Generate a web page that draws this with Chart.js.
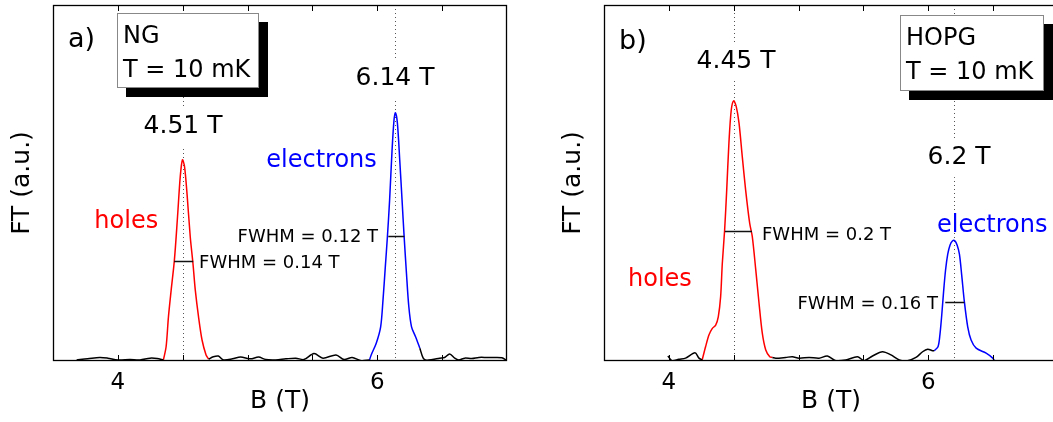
<!DOCTYPE html>
<html><head><meta charset="utf-8">
<script src="https://cdn.jsdelivr.net/npm/chart.js@4.4.1/dist/chart.umd.min.js"></script>
<style>
html,body{margin:0;padding:0;background:#fff;overflow:hidden;width:1053px;height:422px;}
canvas{position:absolute;top:0;}
#cA{left:0;} #cB{left:551px;}
</style></head><body>
<canvas id="cA" width="520" height="422"></canvas>
<canvas id="cB" width="520" height="422"></canvas>
<script>
// ---- axis ticks ----
const xTickValues = [3.5, 4, 4.5, 5, 5.5, 6, 6.5, 7];
const xTickLabels = ['', '4', '', '', '', '6', '', ''];

// ---- panel a) NG ----
const ngNoise1B = [3.682, 3.767, 3.860, 3.922, 4.000, 4.093, 4.171, 4.248, 4.302, 4.351];
const ngNoise1F = [0.003, 0.006, 0.010, 0.008, 0.003, 0.004, 0.003, 0.008, 0.007, 0.003];
const ngHolesB = [4.351, 4.372, 4.390, 4.411, 4.436, 4.460, 4.481, 4.498, 4.514, 4.533, 4.558, 4.579, 4.597, 4.622, 4.649, 4.680, 4.700];
const ngHolesF = [0.003, 0.040, 0.124, 0.199, 0.284, 0.405, 0.518, 0.565, 0.546, 0.471, 0.349, 0.274, 0.199, 0.124, 0.059, 0.017, 0.005];
const ngNoise2B = [4.700, 4.736, 4.775, 4.814, 4.884, 4.946, 5.023, 5.085, 5.140, 5.217, 5.295, 5.372, 5.434, 5.512, 5.581, 5.682, 5.744, 5.806, 5.876, 5.940];
const ngNoise2F = [0.005, 0.012, 0.014, 0.003, 0.006, 0.011, 0.006, 0.011, 0.004, 0.003, 0.006, 0.008, 0.004, 0.021, 0.008, 0.017, 0.004, 0.010, 0.001, 0.003];
const ngElecB = [5.940, 5.953, 5.992, 6.026, 6.044, 6.062, 6.078, 6.095, 6.114, 6.129, 6.140, 6.155, 6.173, 6.191, 6.207, 6.225, 6.243, 6.264, 6.295, 6.328];
const ngElecF = [0.003, 0.017, 0.050, 0.096, 0.171, 0.265, 0.349, 0.452, 0.593, 0.677, 0.697, 0.668, 0.565, 0.452, 0.349, 0.246, 0.153, 0.096, 0.068, 0.036];
const ngNoise3B = [6.328, 6.354, 6.380, 6.426, 6.481, 6.519, 6.558, 6.597, 6.628, 6.674, 6.729, 6.783, 6.845, 6.907, 6.961, 6.995];
const ngNoise3F = [0.036, 0.008, 0.002, 0.004, 0.008, 0.010, 0.020, 0.008, 0.003, 0.008, 0.007, 0.010, 0.010, 0.010, 0.009, 0.002];
const ngPeaks = [4.504, 6.14];
const ngFwhm = [[4.434, 4.581, 0.281], [6.085, 6.209, 0.351]];

// ---- panel b) HOPG ----
const hoNoise1B = [3.992, 4.025, 4.077, 4.129, 4.201, 4.232, 4.257];
const hoNoise1F = [0.014, 0.001, 0.005, 0.008, 0.023, 0.008, 0.003];
const hoHolesB = [4.257, 4.283, 4.309, 4.334, 4.361, 4.381, 4.399, 4.412, 4.430, 4.446, 4.463, 4.481, 4.500, 4.520, 4.541, 4.566, 4.592, 4.623, 4.643, 4.670, 4.695, 4.720, 4.747, 4.778, 4.798];
const hoHolesF = [0.003, 0.040, 0.073, 0.091, 0.101, 0.124, 0.180, 0.274, 0.368, 0.480, 0.612, 0.705, 0.731, 0.714, 0.668, 0.574, 0.480, 0.387, 0.350, 0.256, 0.163, 0.079, 0.031, 0.012, 0.010];
const hoNoise2B = [4.798, 4.824, 4.901, 4.952, 5.004, 5.081, 5.158, 5.222, 5.287, 5.364, 5.454, 5.506, 5.570, 5.647, 5.712, 5.776, 5.840, 5.905, 5.956, 5.995, 6.033, 6.046];
const hoNoise2F = [0.010, 0.008, 0.010, 0.012, 0.008, 0.010, 0.008, 0.014, 0.001, 0.003, 0.012, 0.001, 0.014, 0.026, 0.017, 0.003, 0.001, 0.010, 0.026, 0.033, 0.029, 0.029];
const hoElecB = [6.046, 6.075, 6.090, 6.104, 6.118, 6.133, 6.150, 6.168, 6.186, 6.203, 6.222, 6.240, 6.258, 6.278, 6.304, 6.330, 6.369, 6.446, 6.497, 6.510];
const hoElecF = [0.029, 0.040, 0.075, 0.130, 0.195, 0.255, 0.300, 0.326, 0.337, 0.338, 0.326, 0.300, 0.240, 0.167, 0.096, 0.059, 0.036, 0.022, 0.008, 0.001];
const hoPeaks = [4.502, 6.198];
const hoFwhm = [[4.432, 4.641, 0.365], [6.131, 6.278, 0.166]];

const FONT = '"DejaVu Sans", sans-serif';
Chart.defaults.font.family = FONT;
Chart.defaults.color = '#000';

function pts(bs, fs) { return bs.map((b, i) => ({x: b, y: fs[i]})); }
function line(bs, fs, color) {
  return {data: pts(bs, fs), showLine: true, borderColor: color, borderWidth: 1.5, pointRadius: 0, tension: 0.3, fill: false};
}

const panelPlugin = {
  id: 'panel',
  beforeDatasetsDraw(chart, args, o) {
    const {ctx, chartArea: ca, scales: {x}} = chart;
    ctx.save();
    ctx.strokeStyle = '#555'; ctx.lineWidth = 1; ctx.setLineDash([1, 3]);
    o.peaks.forEach(b => {
      const px = Math.round(x.getPixelForValue(b)) + 0.5;
      ctx.beginPath(); ctx.moveTo(px, ca.top); ctx.lineTo(px, ca.bottom); ctx.stroke();
    });
    ctx.restore();
  },
  afterDatasetsDraw(chart, args, o) {
    const {ctx, chartArea: ca, scales: {x, y}} = chart;
    ctx.save();
    // FWHM bars
    ctx.strokeStyle = '#111'; ctx.lineWidth = 1.5;
    o.fwhm.forEach(([b0, b1, f]) => {
      const py = Math.round(y.getPixelForValue(f)) + 0.5;
      ctx.beginPath(); ctx.moveTo(x.getPixelForValue(b0), py); ctx.lineTo(x.getPixelForValue(b1), py); ctx.stroke();
    });
    // frame
    ctx.strokeStyle = '#000'; ctx.lineWidth = 1.3;
    ctx.strokeRect(ca.left + 0.5, ca.top + 0.5, ca.right - ca.left - 1, ca.bottom - ca.top - 1);
    // inward ticks top & bottom
    ctx.lineWidth = 1;
    x.ticks.forEach(t => {
      if (t.value <= x.min || t.value >= x.max) return;
      const px = Math.round(x.getPixelForValue(t.value)) + 0.5;
      ctx.beginPath();
      ctx.moveTo(px, ca.bottom); ctx.lineTo(px, ca.bottom - 6);
      ctx.moveTo(px, ca.top); ctx.lineTo(px, ca.top + 6);
      ctx.stroke();
    });
    // text labels
    ctx.textBaseline = 'alphabetic';
    o.labels.forEach(l => {
      ctx.font = l.size + 'px ' + FONT;
      const px = x.getPixelForValue(l.b), py = y.getPixelForValue(l.f);
      const w = ctx.measureText(l.text).width;
      let left = px;
      if (l.align === 'center') left = px - w / 2;
      else if (l.align === 'right') left = px - w;
      if (l.bg) { ctx.fillStyle = '#fff'; ctx.fillRect(left - 3, py - 26, w + 6, 39); }
      ctx.fillStyle = l.color || '#000';
      ctx.textAlign = 'left';
      ctx.fillText(l.text, left, py);
    });
    // annotation box with shadow
    const bx = Math.round(x.getPixelForValue(o.box.b)), by = Math.round(y.getPixelForValue(o.box.f));
    ctx.fillStyle = '#000';
    ctx.fillRect(bx + 9, by + 9, o.box.w, o.box.h);
    ctx.fillStyle = '#fff';
    ctx.fillRect(bx, by, o.box.w, o.box.h);
    ctx.strokeStyle = '#888'; ctx.lineWidth = 1;
    ctx.strokeRect(bx + 0.5, by + 0.5, o.box.w - 1, o.box.h - 1);
    ctx.fillStyle = '#000'; ctx.font = '24px ' + FONT;
    o.box.lines.forEach((s, i) => ctx.fillText(s, bx + 6, by + 30 + i * 34));
    ctx.restore();
  }
};

function makeChart(id, datasets, panelOpts) {
  return new Chart(document.getElementById(id), {
    type: 'scatter',
    data: {datasets},
    options: {
      responsive: false, animation: false, devicePixelRatio: 1,
      layout: {padding: {top: 5, right: 13, left: 0, bottom: 0}},
      plugins: {legend: {display: false}, tooltip: {enabled: false}, panel: panelOpts},
      scales: {
        x: {
          type: 'linear', min: 3.5, max: 7, position: 'bottom',
          afterBuildTicks: s => { s.ticks = xTickValues.map(v => ({value: v})); },
          ticks: {autoSkip: false, maxRotation: 0, padding: 8, color: '#000', font: {size: 23},
                  callback: (v, i) => xTickLabels[i]},
          grid: {display: false, drawTicks: false}, border: {display: false},
          title: {display: true, text: 'B (T)', color: '#000', font: {size: 25}, padding: {top: 0, bottom: 6}},
          afterFit: s => { s.height = 61; }
        },
        y: {
          type: 'linear', min: 0, max: 1,
          ticks: {display: false}, grid: {display: false, drawTicks: false}, border: {display: false},
          title: {display: true, text: 'FT (a.u.)', color: '#000', font: {size: 25}, padding: {top: 7, bottom: 0}},
          afterFit: s => { s.width = 53; }
        }
      }
    },
    plugins: [panelPlugin]
  });
}

makeChart('cA', [
  line(ngNoise1B, ngNoise1F, '#000'),
  line(ngNoise2B, ngNoise2F, '#000'),
  line(ngNoise3B, ngNoise3F, '#000'),
  line(ngHolesB, ngHolesF, '#f00'),
  line(ngElecB, ngElecF, '#00f')
], {
  peaks: ngPeaks, fwhm: ngFwhm,
  labels: [
    {text: 'a)', b: 3.616, f: 0.882, size: 27, align: 'left'},
    {text: '4.51 T', b: 4.502, f: 0.640, size: 25, align: 'center', bg: true},
    {text: '6.14 T', b: 6.137, f: 0.775, size: 25, align: 'center', bg: true},
    {text: 'electrons', b: 5.570, f: 0.545, size: 24, align: 'center', color: '#00f'},
    {text: 'holes', b: 4.065, f: 0.374, size: 24, align: 'center', color: '#f00'},
    {text: 'FWHM = 0.12 T', b: 6.006, f: 0.334, size: 18, align: 'right'},
    {text: 'FWHM = 0.14 T', b: 4.626, f: 0.261, size: 18, align: 'left'}
  ],
  box: {b: 3.993, f: 0.9775, w: 142, h: 75, lines: ['NG', 'T = 10 mK']}
});

makeChart('cB', [
  line(hoNoise1B, hoNoise1F, '#000'),
  line(hoNoise2B, hoNoise2F, '#000'),
  line(hoHolesB, hoHolesF, '#f00'),
  line(hoElecB, hoElecF, '#00f')
], {
  peaks: hoPeaks, fwhm: hoFwhm,
  labels: [
    {text: 'b)', b: 3.616, f: 0.876, size: 27, align: 'left'},
    {text: '4.45 T', b: 4.518, f: 0.823, size: 25, align: 'center', bg: true},
    {text: '6.2 T', b: 6.237, f: 0.553, size: 25, align: 'center', bg: true},
    {text: 'electrons', b: 6.067, f: 0.362, size: 24, align: 'left', color: '#00f'},
    {text: 'holes', b: 3.685, f: 0.211, size: 24, align: 'left', color: '#f00'},
    {text: 'FWHM = 0.2 T', b: 4.718, f: 0.340, size: 18, align: 'left'},
    {text: 'FWHM = 0.16 T', b: 6.075, f: 0.146, size: 18, align: 'right'}
  ],
  box: {b: 5.782, f: 0.972, w: 144, h: 76, lines: ['HOPG', 'T = 10 mK']}
});
</script>
</body></html>
